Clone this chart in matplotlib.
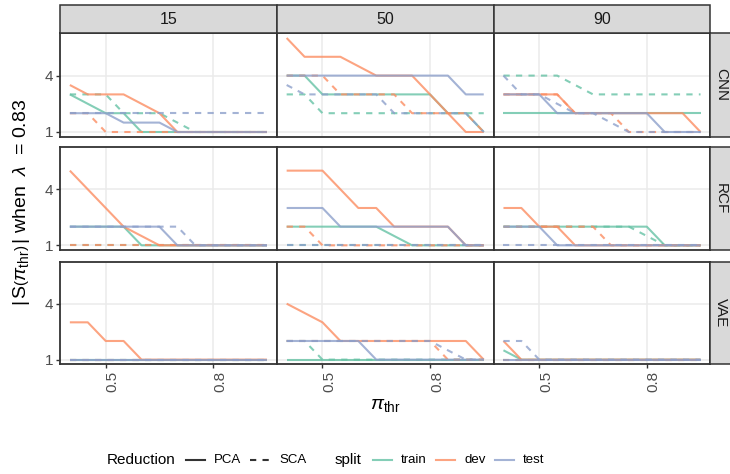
import matplotlib
matplotlib.use("Agg")
import matplotlib.pyplot as plt
from matplotlib.lines import Line2D
from matplotlib.patches import Rectangle

plt.rcParams['font.family'] = ['Liberation Sans', 'DejaVu Sans']
plt.rcParams['mathtext.fontset'] = 'custom'
plt.rcParams['mathtext.rm'] = 'Liberation Sans'
plt.rcParams['mathtext.it'] = 'Liberation Sans:italic'
plt.rcParams['mathtext.bf'] = 'Liberation Sans:bold'

# ---------------- data ----------------
pi_thr = [0.40, 0.45, 0.50, 0.55, 0.60, 0.65, 0.70, 0.75, 0.80, 0.85, 0.90, 0.95]
models = ["CNN", "RCF", "VAE"]
pcts = ["15", "50", "90"]
splits = ["train", "dev", "test"]
reductions = ["PCA", "SCA"]
x_breaks = [0.5, 0.8]
y_breaks = [1, 4]

# CNN, 15
cnn_15_train_pca = [3, 2.5, 2, 2, 1, 1, 1, 1, 1, 1, 1, 1]
cnn_15_train_sca = [3, 3, 3, 2, 2, 2, 1.5, 1, 1, 1, 1, 1]
cnn_15_dev_pca = [3.5, 3, 3, 3, 2.5, 2, 1, 1, 1, 1, 1, 1]
cnn_15_dev_sca = [2, 2, 1, 1, 1, 1, 1, 1, 1, 1, 1, 1]
cnn_15_test_pca = [2, 2, 2, 1.5, 1.5, 1.5, 1, 1, 1, 1, 1, 1]
cnn_15_test_sca = [2, 2, 2, 2, 2, 2, 2, 2, 2, 2, 2, 2]
# CNN, 50
cnn_50_train_pca = [4, 4, 3, 3, 3, 3, 3, 3, 3, 2, 2, 1]
cnn_50_train_sca = [3, 3, 2, 2, 2, 2, 2, 2, 2, 2, 2, 2]
cnn_50_dev_pca = [6, 5, 5, 5, 4.5, 4, 4, 4, 3, 2, 1, 1]
cnn_50_dev_sca = [4, 4, 4, 3, 3, 3, 3, 2, 2, 2, 2, 1]
cnn_50_test_pca = [4, 4, 4, 4, 4, 4, 4, 4, 4, 4, 3, 3]
cnn_50_test_sca = [3.5, 3, 3, 3, 3, 3, 2, 2, 2, 2, 2, 1]
# CNN, 90
cnn_90_train_pca = [2, 2, 2, 2, 2, 2, 2, 2, 2, 2, 2, 2]
cnn_90_train_sca = [4, 4, 4, 4, 3.5, 3, 3, 3, 3, 3, 3, 3]
cnn_90_dev_pca = [3, 3, 3, 3, 2, 2, 2, 2, 2, 2, 2, 1]
cnn_90_dev_sca = [3, 3, 3, 3, 2, 2, 2, 1, 1, 1, 1, 1]
cnn_90_test_pca = [3, 3, 3, 2, 2, 2, 2, 2, 2, 1, 1, 1]
cnn_90_test_sca = [4, 3, 3, 2.5, 2, 2, 1.5, 1, 1, 1, 1, 1]
# RCF, 15
rcf_15_train_pca = [2, 2, 2, 2, 1, 1, 1, 1, 1, 1, 1, 1]
rcf_15_train_sca = [1, 1, 1, 1, 1, 1, 1, 1, 1, 1, 1, 1]
rcf_15_dev_pca = [5, 4, 3, 2, 1.5, 1, 1, 1, 1, 1, 1, 1]
rcf_15_dev_sca = [1, 1, 1, 1, 1, 1, 1, 1, 1, 1, 1, 1]
rcf_15_test_pca = [2, 2, 2, 2, 2, 2, 1, 1, 1, 1, 1, 1]
rcf_15_test_sca = [2, 2, 2, 2, 2, 2, 2, 1, 1, 1, 1, 1]
# RCF, 50
rcf_50_train_pca = [2, 2, 2, 2, 2, 2, 1.5, 1, 1, 1, 1, 1]
rcf_50_train_sca = [1, 1, 1, 1, 1, 1, 1, 1, 1, 1, 1, 1]
rcf_50_dev_pca = [5, 5, 5, 4, 3, 3, 2, 2, 2, 2, 1, 1]
rcf_50_dev_sca = [2, 2, 1, 1, 1, 1, 1, 1, 1, 1, 1, 1]
rcf_50_test_pca = [3, 3, 3, 2, 2, 2, 2, 2, 2, 2, 1, 1]
rcf_50_test_sca = [1, 1, 1, 1, 1, 1, 1, 1, 1, 1, 1, 1]
# RCF, 90
rcf_90_train_pca = [2, 2, 2, 2, 2, 2, 2, 2, 2, 1, 1, 1]
rcf_90_train_sca = [2, 2, 2, 2, 2, 2, 2, 2, 1.5, 1, 1, 1]
rcf_90_dev_pca = [3, 3, 2, 2, 1, 1, 1, 1, 1, 1, 1, 1]
rcf_90_dev_sca = [2, 2, 2, 2, 2, 2, 1, 1, 1, 1, 1, 1]
rcf_90_test_pca = [2, 2, 2, 1, 1, 1, 1, 1, 1, 1, 1, 1]
rcf_90_test_sca = [1, 1, 1, 1, 1, 1, 1, 1, 1, 1, 1, 1]
# VAE, 15
vae_15_train_pca = [1, 1, 1, 1, 1, 1, 1, 1, 1, 1, 1, 1]
vae_15_train_sca = [1, 1, 1, 1, 1, 1, 1, 1, 1, 1, 1, 1]
vae_15_dev_pca = [3, 3, 2, 2, 1, 1, 1, 1, 1, 1, 1, 1]
vae_15_dev_sca = [1, 1, 1, 1, 1, 1, 1, 1, 1, 1, 1, 1]
vae_15_test_pca = [1, 1, 1, 1, 1, 1, 1, 1, 1, 1, 1, 1]
vae_15_test_sca = [1, 1, 1, 1, 1, 1, 1, 1, 1, 1, 1, 1]
# VAE, 50
vae_50_train_pca = [1, 1, 1, 1, 1, 1, 1, 1, 1, 1, 1, 1]
vae_50_train_sca = [2, 2, 1, 1, 1, 1, 1, 1, 1, 1, 1, 1]
vae_50_dev_pca = [4, 3.5, 3, 2, 2, 2, 2, 2, 2, 2, 2, 1]
vae_50_dev_sca = [2, 2, 2, 2, 2, 2, 2, 2, 2, 1, 1, 1]
vae_50_test_pca = [2, 2, 2, 2, 2, 1, 1, 1, 1, 1, 1, 1]
vae_50_test_sca = [2, 2, 2, 2, 2, 2, 2, 2, 2, 1.5, 1, 1]
# VAE, 90
vae_90_train_pca = [1.5, 1, 1, 1, 1, 1, 1, 1, 1, 1, 1, 1]
vae_90_train_sca = [1, 1, 1, 1, 1, 1, 1, 1, 1, 1, 1, 1]
vae_90_dev_pca = [2, 1, 1, 1, 1, 1, 1, 1, 1, 1, 1, 1]
vae_90_dev_sca = [1, 1, 1, 1, 1, 1, 1, 1, 1, 1, 1, 1]
vae_90_test_pca = [1, 1, 1, 1, 1, 1, 1, 1, 1, 1, 1, 1]
vae_90_test_sca = [2, 2, 1, 1, 1, 1, 1, 1, 1, 1, 1, 1]

series = {k: v for k, v in globals().items()
          if k.startswith(("cnn_", "rcf_", "vae_"))}

# ---------------- style ----------------
colors = {"train": "#66C2A5", "dev": "#FC8D62", "test": "#8DA0CB"}
dash = {"PCA": "-", "SCA": (0, (3, 3))}
ALPHA = 0.8
LW = 1.5
BORDER = "#333333"
GRID = "#EBEBEB"

W, H = 730, 474
fig = plt.figure(figsize=(W / 100, H / 100), dpi=100)


def rect(x0, y0, x1, y1):
    return [x0 / W, 1 - y1 / H, (x1 - x0) / W, (y1 - y0) / H]


def fx(x):
    return x / W


def fy(y):
    return 1 - y / H


col_x = [(60, 276.8), (276.8, 493.6), (493.6, 710.4)]
row_y = [(33.3, 136.7), (147.3, 250.0), (261.7, 364.3)]

for r, model in enumerate(models):
    for c, pct in enumerate(pcts):
        x0, x1 = col_x[c]
        y0, y1 = row_y[r]
        ax = fig.add_axes(rect(x0, y0, x1, y1))
        ax.set_xlim(0.3725, 0.9775)
        ax.set_ylim(0.75, 6.25)
        ax.set_xticks(x_breaks)
        ax.set_yticks(y_breaks)
        ax.grid(True, color=GRID, lw=1.1, zorder=0)
        ax.set_axisbelow(True)
        for s in ax.spines.values():
            s.set_color(BORDER)
            s.set_linewidth(1.3)
            s.set_zorder(5)
        ax.tick_params(direction="out", length=3, width=1.0, color=BORDER,
                       labelcolor="#4D4D4D", labelsize=11, pad=2)
        if c == 0:
            ax.set_yticklabels([str(v) for v in y_breaks])
        else:
            ax.tick_params(axis="y", left=False, labelleft=False)
        if r == len(models) - 1:
            ax.set_xticklabels([str(v) for v in x_breaks], rotation=90,
                               ha="left", va="top")
        else:
            ax.tick_params(axis="x", bottom=False, labelbottom=False)
        for sp in splits:
            for red in reductions:
                key = f"{model.lower()}_{pct}_{sp}_{red.lower()}"
                ax.plot(pi_thr, series[key], color=colors[sp], alpha=ALPHA,
                        lw=LW, linestyle=dash[red], solid_capstyle="butt",
                        dash_capstyle="butt", zorder=3)

# top strips
for c, pct in enumerate(pcts):
    x0, x1 = col_x[c]
    fig.patches.append(Rectangle((fx(x0), fy(33.3)), (x1 - x0) / W, (33.3 - 4.7) / H,
                                 transform=fig.transFigure, facecolor="#D9D9D9",
                                 edgecolor=BORDER, lw=1.1))
    fig.text(fx((x0 + x1) / 2), fy(19), pct, ha="center", va="center",
             fontsize=11.5, color="#1A1A1A")

# right strips
for r, model in enumerate(models):
    y0, y1 = row_y[r]
    fig.patches.append(Rectangle((fx(710.4), fy(y1)), 28.6 / W, (y1 - y0) / H,
                                 transform=fig.transFigure, facecolor="#D9D9D9",
                                 edgecolor=BORDER, lw=1.1))
    fig.text(fx(721), fy((y0 + y1) / 2), model, ha="center", va="center",
             rotation=270, fontsize=11, color="#1A1A1A")

# axis titles
fig.text(fx(22), fy(202),
         r"$|\,\mathrm{S}\left(\pi_{\mathrm{thr}}\right)\,|$ when  $\lambda$  = 0.83",
         rotation=90, ha="center", va="center", fontsize=14, color="black")
fig.text(fx(385), fy(405), r"$\pi_{\mathrm{thr}}$", ha="center", va="center",
         fontsize=14, color="black")

# legend (bottom)
ly = fy(460)
fig.text(fx(107), ly, "Reduction", ha="left", va="center", fontsize=11)
fig.add_artist(Line2D([fx(186), fx(205)], [ly, ly], color="#333333", lw=1.5,
                      transform=fig.transFigure))
fig.text(fx(214), ly, "PCA", ha="left", va="center", fontsize=9.5)
fig.add_artist(Line2D([fx(250), fx(270)], [ly, ly], color="#333333", lw=1.5,
                      linestyle=(0, (3, 3)), transform=fig.transFigure))
fig.text(fx(279), ly, "SCA", ha="left", va="center", fontsize=9.5)

fig.text(fx(335), ly, "split", ha="left", va="center", fontsize=11)
leg_pos = {"train": (373, 401), "dev": (436, 464), "test": (495, 523)}
for sp in splits:
    kx, tx = leg_pos[sp]
    fig.add_artist(Line2D([fx(kx), fx(kx + 19)], [ly, ly], color=colors[sp],
                          alpha=ALPHA, lw=1.5, transform=fig.transFigure))
    fig.text(fx(tx), ly, sp, ha="left", va="center", fontsize=9.5)

fig.savefig("out.png", dpi=100)
